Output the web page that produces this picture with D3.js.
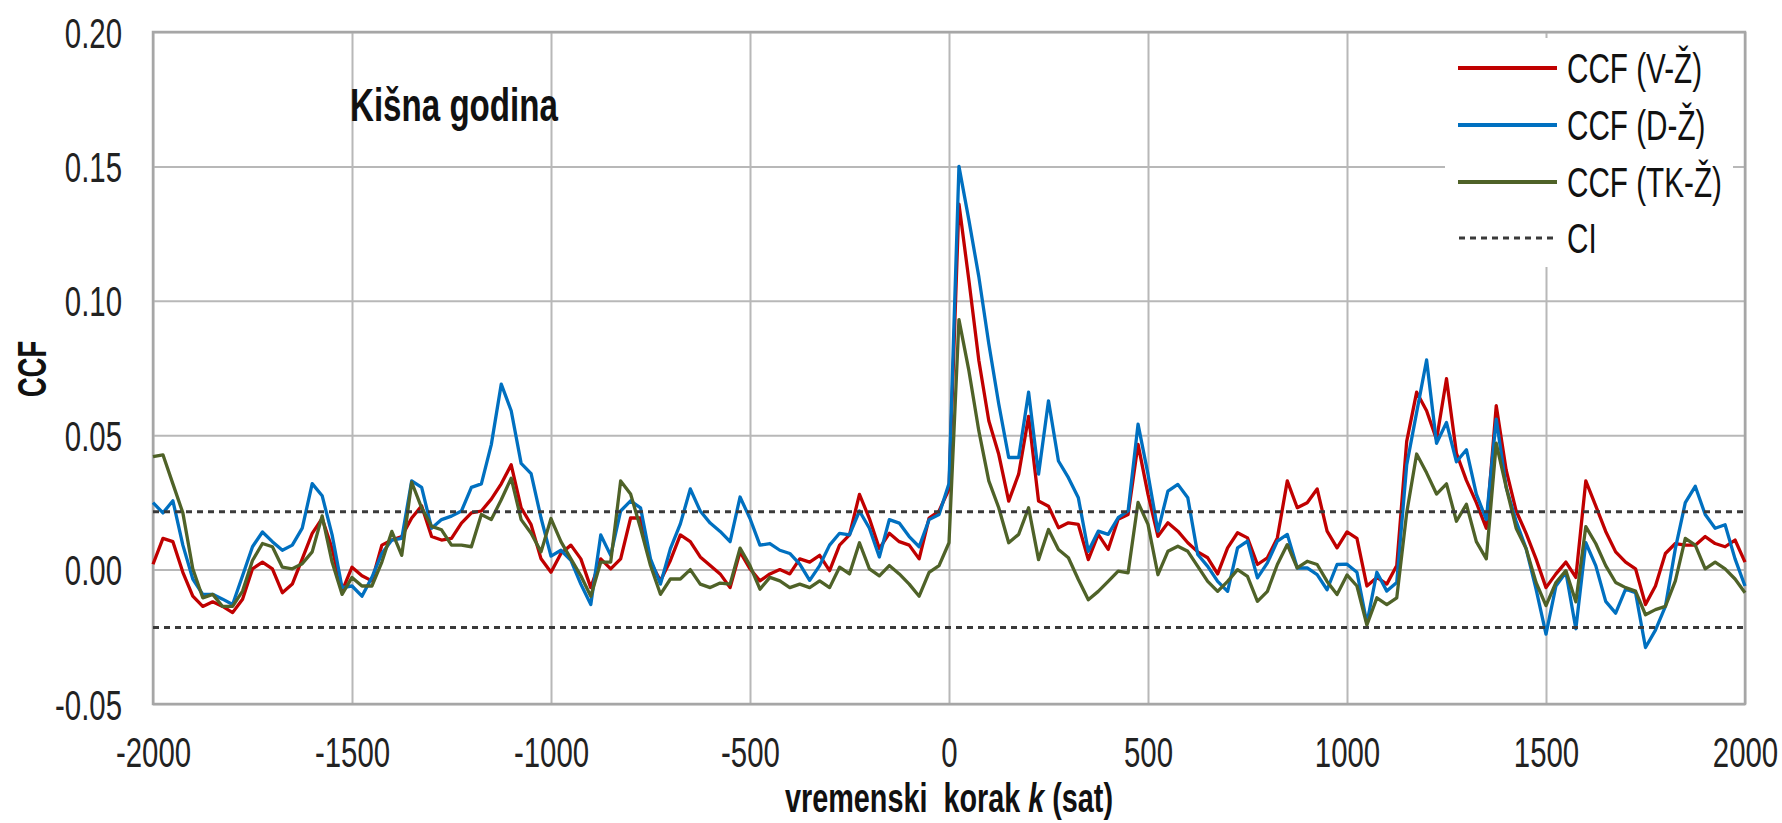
<!DOCTYPE html>
<html>
<head>
<meta charset="utf-8">
<script src="https://cdn.jsdelivr.net/npm/d3@7"></script>
<style>
  html, body { margin: 0; padding: 0; background: #fff; }
  svg { display: block; }
</style>
</head>
<body>
<div id="chart"></div>
<script>
/* Data: lags k = -2000..2000, step 25 */

const lags = d3.range(-2000, 2001, 25);

// CCF (V-Ž), rows of 8 starting at -2000, -1800, ...
const ccfVZ = [
  0.002, 0.0116, 0.0104, -0.001, -0.0099, -0.0137, -0.012, -0.0137,
  -0.016, -0.011, 0.0003, 0.0028, 0.0003, -0.0086, -0.0054, 0.004,
  0.0135, 0.019, 0.0078, -0.008, 0.0009, -0.0023, -0.0042, 0.0091,
  0.011, 0.0123, 0.0192, 0.0237, 0.0123, 0.011, 0.0116, 0.0173,
  0.0211, 0.0218, 0.0262, 0.0319, 0.039, 0.023, 0.0167, 0.004,
  -0.001, 0.006, 0.0091, 0.004, -0.0067, 0.004, 0.0003, 0.004,
  0.0192, 0.0192, 0.0028, -0.0042, 0.0034, 0.0129, 0.0104, 0.0047,
  0.0015, -0.0016, -0.0067, 0.0066, 0.0003, -0.0042, -0.0016, 0.0,
  -0.0016, 0.004, 0.0028, 0.0053, -0.0004, 0.0091, 0.0129, 0.028,
  0.019, 0.0078, 0.0135, 0.0104, 0.0091, 0.004, 0.0192, 0.0218,
  0.03, 0.136, 0.1076, 0.0778, 0.0554, 0.0429, 0.0255, 0.0355,
  0.057, 0.0255, 0.0236, 0.0156, 0.0174, 0.0168, 0.0037, 0.0131,
  0.0075, 0.0187, 0.0205, 0.0466, 0.028, 0.0124, 0.0174, 0.0143,
  0.01, 0.0066, 0.0044, -0.0016, 0.0081, 0.0137, 0.0118, 0.0019,
  0.0044, 0.0118, 0.033, 0.023, 0.0249, 0.030, 0.0143, 0.0081,
  0.014, 0.0116, -0.0061, -0.0029, -0.0054, 0.0015, 0.0477, 0.066,
  0.0591, 0.0484, 0.071, 0.0433, 0.0332, 0.0249, 0.0154, 0.061,
  0.037, 0.0218, 0.0135, 0.004, -0.0067, -0.0016, 0.0028, -0.0029,
  0.033, 0.0237, 0.0142, 0.0066, 0.0028, 0.0003, -0.013, -0.0061,
  0.006, 0.0097, 0.0091, 0.0091, 0.0123, 0.0097, 0.0085, 0.011,
  0.0028
];

// CCF (D-Ž)
const ccfDZ = [
  0.0249, 0.0211, 0.0256, 0.0091, -0.0035, -0.0092, -0.0092, -0.011,
  -0.013, -0.0023, 0.0085, 0.014, 0.0104, 0.0072, 0.0091, 0.0154,
  0.032, 0.0275, 0.0129, -0.0067, -0.0061, -0.0099, -0.0029, 0.006,
  0.011, 0.0116, 0.033, 0.0306, 0.0154, 0.0186, 0.0199, 0.0218,
  0.0306, 0.0319, 0.0465, 0.069, 0.0591, 0.0395, 0.0357, 0.0192,
  0.005, 0.0072, 0.0034, -0.0054, -0.013, 0.0129, 0.0053, 0.0218,
  0.0256, 0.023, 0.004, -0.0054, 0.0078, 0.017, 0.030, 0.0218,
  0.0173, 0.0142, 0.0104, 0.027, 0.019, 0.0091, 0.0097, 0.0072,
  0.006, 0.002, -0.004, 0.0015, 0.0091, 0.0135, 0.0129, 0.0218,
  0.0154, 0.0047, 0.0186, 0.0173, 0.0123, 0.0085, 0.0186, 0.0205,
  0.032, 0.150, 0.130, 0.1089, 0.084, 0.0616, 0.0417, 0.0417,
  0.066, 0.0355, 0.0628, 0.0404, 0.0342, 0.0267, 0.0068, 0.0143,
  0.0131, 0.0193, 0.0218, 0.0541, 0.0355, 0.0143, 0.0292, 0.0317,
  0.0267, 0.0056, 0.0012, -0.0044, -0.0081, 0.0081, 0.0106, -0.0031,
  0.0025, 0.0106, 0.0131, 0.0006, 0.0006, -0.0019, -0.0075, 0.0019,
  0.002, -0.001, -0.020, -0.001, -0.008, -0.0048, 0.0389, 0.0585,
  0.078, 0.047, 0.0547, 0.0401, 0.0446, 0.0281, 0.0186, 0.056,
  0.0306, 0.018, 0.0078, -0.0073, -0.024, -0.0061, -0.001, -0.022,
  0.010, 0.0015, -0.0118, -0.0162, -0.0073, -0.0086, -0.029, -0.0225,
  -0.0137, 0.0078, 0.0249, 0.031, 0.0205, 0.0154, 0.0167, 0.004,
  -0.0061
];

// CCF (TK-Ž)
const ccfTKZ = [
  0.042, 0.0427, 0.0319, 0.0211, 0.0003, -0.0105, -0.0092, -0.0137,
  -0.0137, -0.008, 0.0034, 0.0097, 0.0085, 0.0009, 0.0003, 0.0022,
  0.0066, 0.020, 0.0028, -0.0092, -0.0029, -0.0061, -0.0061, 0.0028,
  0.0142, 0.0053, 0.0325, 0.023, 0.0161, 0.0148, 0.0091, 0.0091,
  0.0085, 0.0205, 0.0186, 0.026, 0.034, 0.0186, 0.0135, 0.0066,
  0.019, 0.0104, 0.004, -0.0023, -0.0099, 0.0028, 0.0028, 0.033,
  0.0281, 0.0154, 0.0015, -0.0092, -0.0035, -0.0035, 0.0, -0.0054,
  -0.0067, -0.005, -0.0054, 0.008, 0.0015, -0.0073, -0.0029, -0.0042,
  -0.0067, -0.0054, -0.0067, -0.0042, -0.0067, 0.0009, -0.0016, 0.010,
  0.0003, -0.0023, 0.0015, -0.0016, -0.0054, -0.0099, -0.001, 0.0015,
  0.010, 0.093, 0.074, 0.0516, 0.033, 0.023, 0.01, 0.0131,
  0.023, 0.0037, 0.0149, 0.0075, 0.0044, -0.0037, -0.0112, -0.0081,
  -0.0044, -0.0006, -0.0012, 0.025, 0.0168, -0.0019, 0.0068, 0.0087,
  0.0068, 0.0012, -0.0044, -0.0081, -0.0044, 0.0, -0.0025, -0.0118,
  -0.0081, 0.0019, 0.0093, 0.0006, 0.0031, 0.0019, -0.0044, -0.0093,
  -0.002, -0.0061, -0.0206, -0.0105, -0.013, -0.0105, 0.0211, 0.043,
  0.036, 0.0281, 0.0319, 0.018, 0.0243, 0.0104, 0.004, 0.047,
  0.0306, 0.0154, 0.0078, -0.0048, -0.0134, -0.0048, -0.0004, -0.012,
  0.016, 0.0097, 0.0015, -0.0048, -0.0067, -0.008, -0.0168, -0.0149,
  -0.0137, -0.0042, 0.0116, 0.0091, 0.0003, 0.0028, 0.0003, -0.0035,
  -0.0086
];

const ciLevel = 0.0215;
const xTicks = [-2000, -1500, -1000, -500, 0, 500, 1000, 1500, 2000];
const yTicks = [-0.05, 0, 0.05, 0.10, 0.15, 0.20];
const seriesNames = ['CCF (V-Ž)', 'CCF (D-Ž)', 'CCF (TK-Ž)'];
const seriesColors = ['#C00000', '#0070C0', '#4F6228'];
const ciName = 'CI';

/* Layout */

const width = 1782, height = 823;
const plot = { left: 153, right: 1745, top: 32, bottom: 704 };
const FONT = '"Liberation Sans", Arial, sans-serif';
const SX = 0.70; // the source text is strongly condensed horizontally

const x = d3.scaleLinear().domain([-2000, 2000]).range([plot.left, plot.right]);
const y = d3.scaleLinear().domain([-0.05, 0.2]).range([plot.bottom, plot.top]);

const fmt = d3.formatLocale({ decimal: '.', thousands: ',', grouping: [3], currency: ['', ''], minus: '-' });

const svg = d3.select('#chart').append('svg')
    .attr('width', width)
    .attr('height', height)
    .style('background', '#fff');

/* Grid */

const grid = svg.append('g');

grid.append('g')
    .attr('transform', `translate(${plot.left},0)`)
    .call(d3.axisLeft(y).tickValues(yTicks).tickSize(-(plot.right - plot.left)).tickFormat(''))
    .call(g => g.select('.domain').remove())
    .call(g => g.selectAll('line').attr('stroke', '#b8b8b8').attr('stroke-width', 2));

grid.append('g')
    .attr('transform', `translate(0,${plot.bottom})`)
    .call(d3.axisBottom(x).tickValues(xTicks).tickSize(-(plot.bottom - plot.top)).tickFormat(''))
    .call(g => g.select('.domain').remove())
    .call(g => g.selectAll('line').attr('stroke', '#b8b8b8').attr('stroke-width', 2));

svg.append('rect')
    .attr('x', plot.left).attr('y', plot.top)
    .attr('width', plot.right - plot.left).attr('height', plot.bottom - plot.top)
    .attr('fill', 'none').attr('stroke', '#a6a6a6').attr('stroke-width', 2.5);

/* Tick labels */

const tickSize = 42;

const yAxis = svg.append('g')
    .attr('transform', `translate(${plot.left},0)`)
    .call(d3.axisLeft(y).tickValues(yTicks).tickSize(0).tickFormat(fmt.format('.2f')));
yAxis.select('.domain').remove();
yAxis.selectAll('text')
    .attr('x', -31 / SX)
    .attr('dy', '0.36em')
    .attr('transform', `scale(${SX},1)`)
    .style('font-family', FONT).style('font-size', tickSize + 'px').attr('fill', '#222');

const xAxis = svg.append('g')
    .attr('transform', `translate(0,${plot.bottom})`)
    .call(d3.axisBottom(x).tickValues(xTicks).tickSize(0).tickFormat(fmt.format('d')));
xAxis.select('.domain').remove();
xAxis.selectAll('text')
    .attr('y', 48 + 0.358 * tickSize).attr('dy', 0)
    .attr('transform', `scale(${SX},1)`)
    .style('font-family', FONT).style('font-size', tickSize + 'px').attr('fill', '#222');

/* Text helper */

const addText = (px, py, str, size, sx, weight, anchor, rotate) => {
    const t = svg.append('text')
        .attr('transform', `translate(${px},${py})${rotate ? ` rotate(${rotate})` : ''} scale(${sx},1)`)
        .attr('text-anchor', anchor || 'start')
        .style('font-family', FONT)
        .style('font-size', size + 'px')
        .style('font-weight', weight || 'normal')
        .style('white-space', 'pre')
        .attr('fill', '#111');
    if (str !== null) t.text(str);
    return t;
};

// axis titles (py is the baseline)
const xTitle = addText(949, 812, null, 40, 0.72, 'bold', 'middle');
xTitle.append('tspan').text('vremenski  korak ');
xTitle.append('tspan').style('font-style', 'italic').text('k');
xTitle.append('tspan').text(' (sat)');

addText(46, 369, 'CCF', 40, 0.69, 'bold', 'middle', -90);

addText(350, 121, 'Kišna godina', 46, 0.72, 'bold', 'start');

/* Series */

const line = d3.line()
    .x((d, i) => x(lags[i]))
    .y(d => y(d));

const series = [ccfVZ, ccfDZ, ccfTKZ];

svg.append('g')
    .selectAll('path')
    .data(series)
    .join('path')
    .attr('d', line)
    .attr('fill', 'none')
    .attr('stroke', (d, i) => seriesColors[i])
    .attr('stroke-width', 3.3)
    .attr('stroke-linejoin', 'round');

// confidence interval
svg.append('g')
    .selectAll('line')
    .data([ciLevel, -ciLevel])
    .join('line')
    .attr('x1', plot.left).attr('x2', plot.right)
    .attr('y1', d => y(d)).attr('y2', d => y(d))
    .attr('stroke', '#3a3a3a')
    .attr('stroke-width', 3)
    .attr('stroke-dasharray', '6,5');

/* Legend */

const legendRows = [68, 125, 182, 238];
const legendSize = 43;

svg.append('rect')
    .attr('x', 1445).attr('y', 38)
    .attr('width', 288).attr('height', 229)
    .attr('fill', '#fff');

const legend = svg.append('g');

seriesNames.forEach((name, i) => {
    legend.append('line')
        .attr('x1', 1458).attr('x2', 1557)
        .attr('y1', legendRows[i]).attr('y2', legendRows[i])
        .attr('stroke', seriesColors[i])
        .attr('stroke-width', 4);
    addText(1567, legendRows[i] + 0.358 * legendSize, name, legendSize, 0.69);
});

legend.append('line')
    .attr('x1', 1459).attr('x2', 1557)
    .attr('y1', legendRows[3]).attr('y2', legendRows[3])
    .attr('stroke', '#3a3a3a')
    .attr('stroke-width', 3)
    .attr('stroke-dasharray', '6,5');
addText(1567, legendRows[3] + 0.358 * legendSize, ciName, legendSize, 0.69);
</script>
</body>
</html>
